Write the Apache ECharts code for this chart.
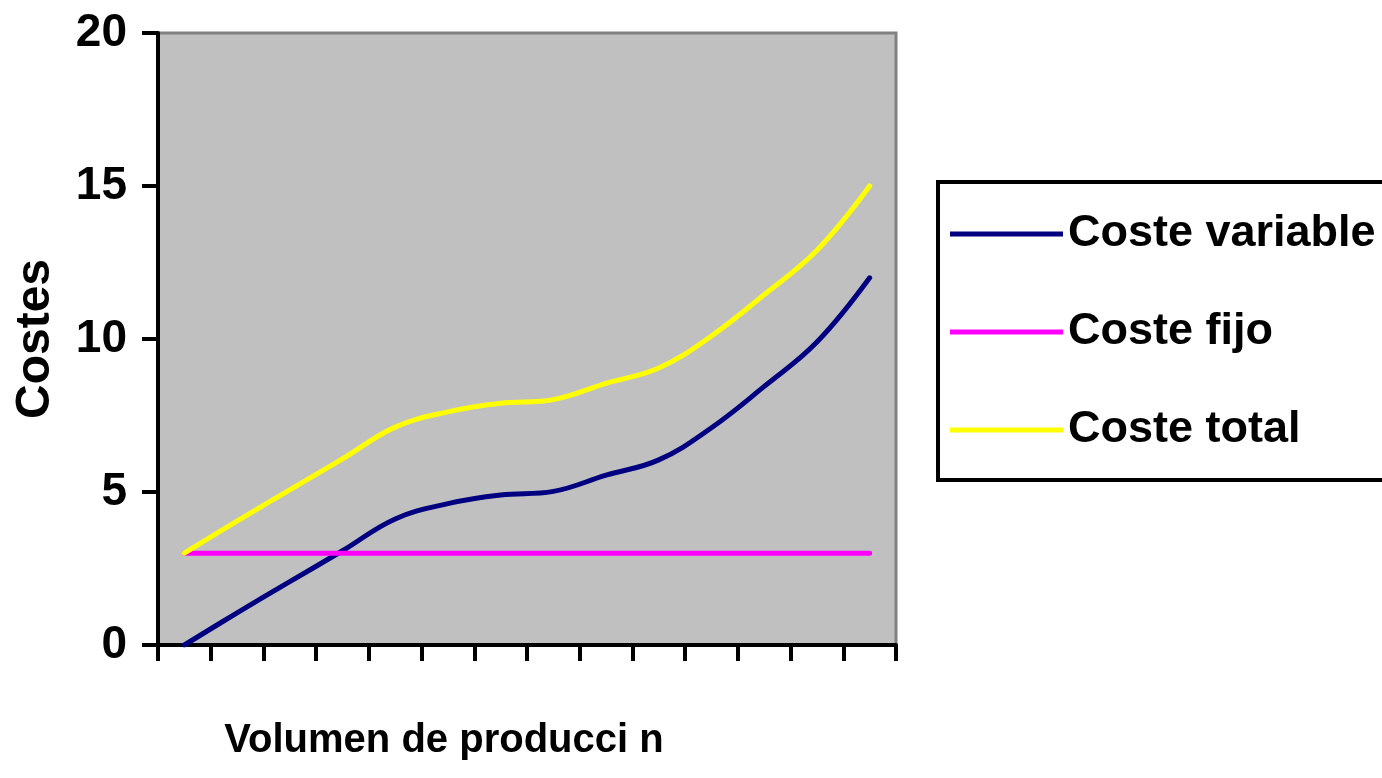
<!DOCTYPE html>
<html>
<head>
<meta charset="utf-8">
<style>
html,body{margin:0;padding:0;background:#fff;}
#chart{width:1382px;height:778px;}
</style>
<script src="https://cdn.jsdelivr.net/npm/echarts@6/dist/echarts.min.js"></script>
</head>
<body>
<div id="chart"></div>
<script>
var categories = ['1','2','3','4','5','6','7','8','9','10','11','12','13','14'];
var costeVariable = [0, 1.05, 2.07, 3.08, 4.12, 4.62, 4.9, 5.02, 5.55, 6.05, 7.1, 8.45, 9.9, 12.0];
var costeFijo = [3, 3, 3, 3, 3, 3, 3, 3, 3, 3, 3, 3, 3, 3];
var costeTotal = [3, 4.05, 5.07, 6.08, 7.12, 7.62, 7.9, 8.02, 8.55, 9.05, 10.1, 11.45, 12.9, 15.0];
var seriesNames = ['Coste variable', 'Coste fijo', 'Coste total'];
var yTicks = { min: 0, max: 20, interval: 5 };

var FONT = "'Liberation Sans', Arial, sans-serif";
var chart = echarts.init(document.getElementById('chart'), null, {renderer: 'canvas'});
function line(name, data, color) {
  return {
    name: name, type: 'line', data: data, smooth: 0.4,
    symbol: 'none', showSymbol: false,
    lineStyle: { color: color, width: 5, cap: 'round', join: 'round' }, itemStyle: { color: color },
    animation: false
  };
}
chart.setOption({
  animation: false,
  grid: {
    left: 158, top: 33, right: 486, bottom: 133,
    show: true, backgroundColor: '#c0c0c0', borderColor: '#808080', borderWidth: 3
  },
  legend: {
    orient: 'vertical', left: 938, top: 182,
    icon: 'rect', itemWidth: 113, itemHeight: 5, itemGap: 38,
    padding: [22, 12, 20, 12],
    backgroundColor: '#fff', borderColor: '#000', borderWidth: 4,
    textStyle: { fontFamily: FONT, fontWeight: 'bold', fontSize: 45, color: '#000', lineHeight: 60 },
    data: seriesNames
  },
  xAxis: {
    type: 'category', data: categories, boundaryGap: true,
    name: 'Volumen de producci n', nameLocation: 'middle', nameGap: 76,
    nameTextStyle: { fontFamily: FONT, fontWeight: 'bold', fontSize: 40, color: '#000', padding: [0, 166, 0, 0] },
    axisLine: { lineStyle: { color: '#000', width: 4 } },
    axisTick: { show: true, length: 16, lineStyle: { color: '#000', width: 4 }, alignWithLabel: false, interval: 0 },
    axisLabel: { show: false },
    splitLine: { show: false }
  },
  yAxis: {
    type: 'value', min: yTicks.min, max: yTicks.max, interval: yTicks.interval,
    name: 'Costes', nameLocation: 'middle', nameGap: 98,
    nameTextStyle: { fontFamily: FONT, fontWeight: 'bold', fontSize: 48, color: '#000' },
    axisLine: { show: true, lineStyle: { color: '#000', width: 4 } },
    axisTick: { show: true, length: 16, lineStyle: { color: '#000', width: 4 } },
    axisLabel: { fontFamily: FONT, fontWeight: 'bold', fontSize: 46, color: '#000', margin: 31 },
    splitLine: { show: false }
  },
  series: [
    line(seriesNames[0], costeVariable, '#000080'),
    line(seriesNames[1], costeFijo, '#ff00ff'),
    line(seriesNames[2], costeTotal, '#ffff00')
  ]
});
</script>
</body>
</html>
